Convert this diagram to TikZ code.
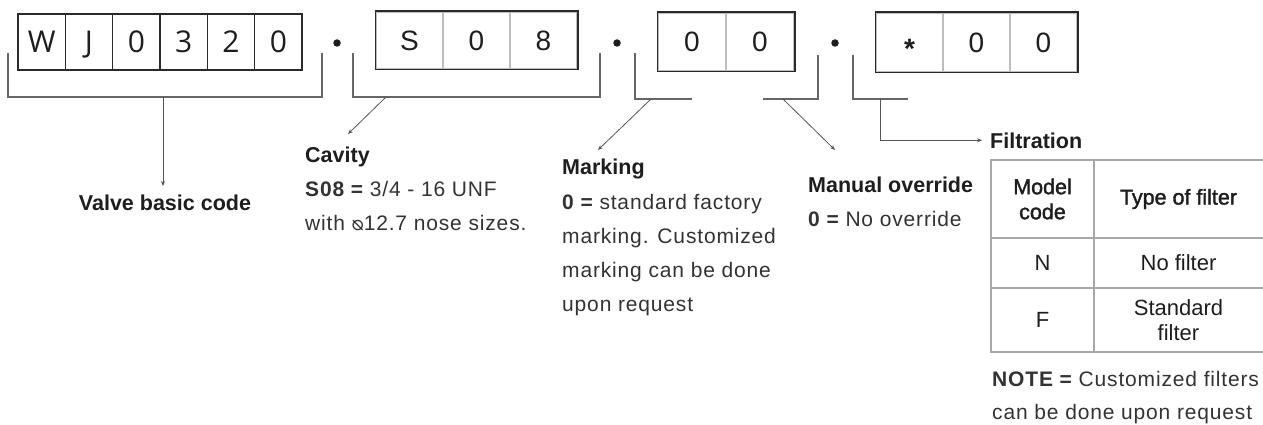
\documentclass[tikz,border=0pt]{standalone}
\usepackage{fontspec}
\usepackage{graphicx}
\setmainfont{Liberation Sans}
\newfontfamily\boxfont{Open Sans}
\newfontfamily\symfont{DejaVu Sans}
\newfontfamily\bodyfont{Liberation Sans}[LetterSpace=4]
\newfontfamily\medfont{Liberation Sans}[FakeBold=1.6]
\usetikzlibrary{arrows.meta}
\definecolor{boxdark}{HTML}{2A2A2A}
\definecolor{divgray}{HTML}{BDBDBD}
\definecolor{linegray}{HTML}{666666}
\definecolor{arrgray}{HTML}{555555}
\definecolor{tblgray}{HTML}{A8A8A8}
\definecolor{textdark}{HTML}{1E1E1E}
\definecolor{bodycol}{HTML}{333333}
\newcommand\hd[1]{{\normalfont\fontsize{21.5}{34}\selectfont\bfseries\color{textdark}#1}}
\newcommand\dia{\raisebox{-0.5pt}{\reflectbox{{\symfont\fontsize{20}{20}\selectfont ⌀}}}}
\begin{document}
\begin{tikzpicture}[x=1pt,y=-1pt,
  cellA/.style={draw=boxdark, line width=1.3pt, minimum width=47.33pt, minimum height=56pt,
    inner sep=0pt, text height=21.7pt, text depth=0pt, text=textdark,
    font=\boxfont\fontsize{30}{30}\selectfont},
  cellB/.style={draw=divgray, line width=1.2pt, minimum height=57pt,
    inner sep=0pt, text height=20pt, text depth=0pt, text=textdark,
    font=\fontsize{28}{28}\selectfont},
  frame/.style={draw=boxdark, line width=1.8pt},
  dotn/.style={circle, fill=textdark, inner sep=0pt, minimum size=7.5pt},
  bracket/.style={draw=linegray, line width=1.4pt},
  arr/.style={draw=arrgray, line width=0.8pt, -{Stealth[length=5pt,width=4pt]}},
  tbl/.style={draw=tblgray, line width=1.3pt},
  txt/.style={inner sep=0pt, text=bodycol, font=\bodyfont\fontsize{21}{34}\selectfont},
  tcell/.style={inner sep=0pt, align=center, text=textdark, font=\fontsize{22}{25}\selectfont},
  thead/.style={tcell, font=\medfont\fontsize{21.5}{25}\selectfont}
]
\fill[white] (0,0) rectangle (1263,425);
\useasboundingbox (0,0) rectangle (1263,425);

% ---- box 1: WJ0320
\node[cellA] (w1) at (41.67,42) {W};
\node[cellA] (w2) at (89.00,42) {J};
\node[cellA] (w3) at (136.33,42) {0};
\node[cellA] (w4) at (183.67,42) {3};
\node[cellA] (w5) at (231.00,42) {2};
\node[cellA] (w6) at (278.33,42) {0};

\node[dotn] (d1) at (337,43) {};

% ---- box 2: S08
\node[cellB, minimum width=67pt] (s1) at (409.5,40.5) {S};
\node[cellB, minimum width=67pt] (s2) at (476.5,40.5) {0};
\node[cellB, minimum width=67pt] (s3) at (543.5,40.5) {8};
\draw[frame] (s1.north west) rectangle (s3.south east);

\node[dotn] (d2) at (617,43) {};

% ---- box 3: 00
\node[cellB, minimum width=68pt, minimum height=58pt] (m1) at (692,42) {0};
\node[cellB, minimum width=68pt, minimum height=58pt] (m2) at (760,42) {0};
\draw[frame] (m1.north west) rectangle (m2.south east);

\node[dotn] (d3) at (835,43) {};

% ---- box 4: *00
\node[cellB, minimum width=67pt, minimum height=59pt] (f1) at (909.5,42.5) {\raisebox{-6.5pt}{\bfseries *}};
\node[cellB, minimum width=67pt, minimum height=59pt] (f2) at (976.5,42.5) {0};
\node[cellB, minimum width=67pt, minimum height=59pt] (f3) at (1043.5,42.5) {0};
\draw[frame] (f1.north west) rectangle (f3.south east);

% ---- brackets
\draw[bracket] (8,53) -- (8,97) -- (322,97) -- (322,53);
\draw[bracket] (353,53) -- (353,97) -- (600,97) -- (600,53);
\draw[bracket] (635,53) -- (635,99) -- (692,99);
\draw[bracket] (763,99) -- (818,99) -- (818,55);
\draw[bracket] (853,55) -- (853,99) -- (908,99);

\coordinate (a1s) at (163,97);  \coordinate (a1e) at (163,186);
\coordinate (a2s) at (386,97);  \coordinate (a2e) at (348,134);
\coordinate (a3s) at (651,99);  \coordinate (a3e) at (598,150);
\coordinate (a4s) at (783,99);  \coordinate (a4e) at (835,150);
\coordinate (a5s) at (880,99);

% ---- labels
\node[anchor=base, inner sep=0pt] (valve) at (165,210) {\hd{Valve basic code}};

\node[txt, anchor=base west] (cav) at (305,162)
  {\begin{tabular}[t]{@{}l@{}}\hd{Cavity}\\{\bfseries S08 =} 3/4 - 16 UNF\\with \dia12.7 nose sizes.\end{tabular}};

\node[txt, anchor=base west] (mark) at (562,175)
  {\begin{tabular}[t]{@{}l@{}}\hd{Marking}\\{\bfseries 0 =} standard factory\\marking. Customized\\marking can be done\\upon request\end{tabular}};

\node[txt, anchor=base west] (man) at (808,192)
  {\begin{tabular}[t]{@{}l@{}}\hd{Manual override}\\{\bfseries 0 =} No override\end{tabular}};

\node[anchor=base west, inner sep=0pt] (filt) at (990,148) {\hd{Filtration}};

\draw[arr] (a1s) -- (a1e);
\draw[arr] (a2s) -- (a2e);
\draw[arr] (a3s) -- (a3e);
\draw[arr] (a4s) -- (a4e);
\draw[arr, shorten >=8pt] (a5s) |- (filt.west);

% ---- table
\draw[tbl] (1263,160) -- (991,160) -- (991,352) -- (1263,352);
\draw[tbl] (991,238) -- (1263,238);
\draw[tbl] (991,288) -- (1263,288);
\draw[tbl] (1094,160) -- (1094,352);

\node[thead] (th1) at (1042.5,199) {Model\\code};
\node[thead] (th2) at (1178.5,199) {Type of filter};
\node[tcell] (tn1) at (1042.5,263) {N};
\node[tcell] (tn2) at (1178.5,263) {No filter};
\node[tcell] (tf1) at (1042.5,320) {F};
\node[tcell] (tf2) at (1178.5,320) {Standard\\filter};

\node[txt, anchor=base west, font=\bodyfont\fontsize{21}{33}\selectfont] (note) at (992,386)
  {\begin{tabular}[t]{@{}l@{}}{\bfseries NOTE =} Customized filters\\can be done upon request\end{tabular}};
\end{tikzpicture}
\end{document}
